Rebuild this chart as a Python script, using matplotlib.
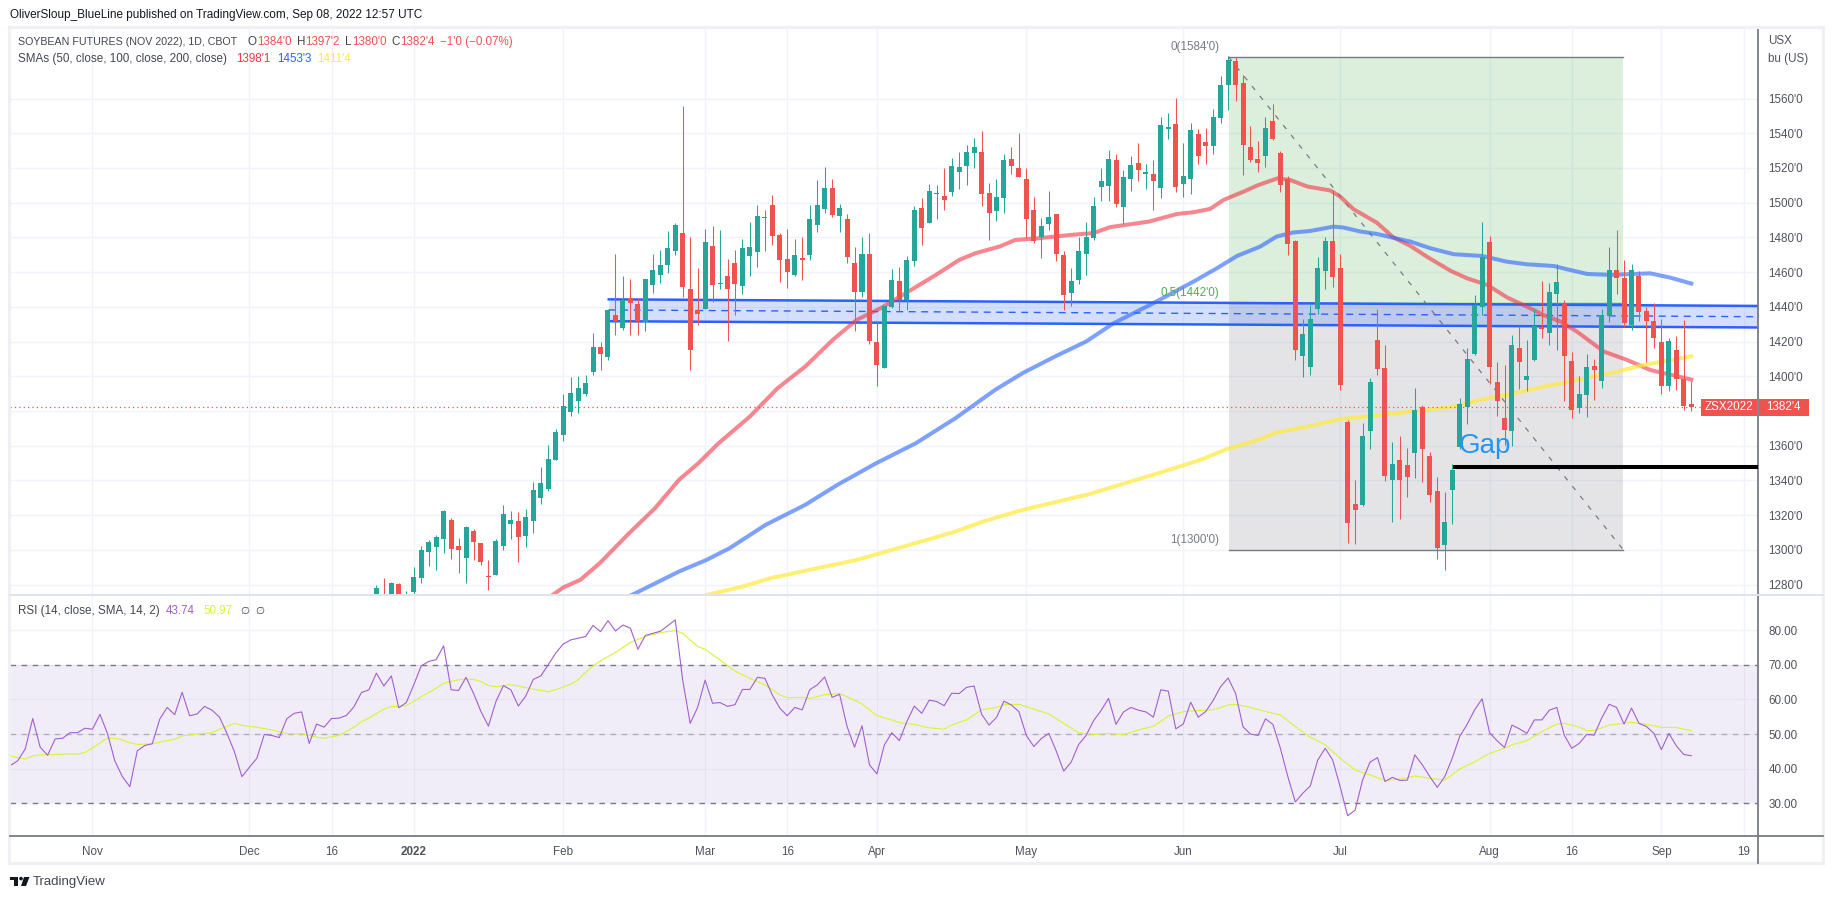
# soybean futures daily chart, tradingview style
import numpy as np
import matplotlib
matplotlib.use('Agg')
import matplotlib.pyplot as plt
from matplotlib.patches import Rectangle, Polygon, Ellipse
from matplotlib.lines import Line2D

plt.rcParams['font.family'] = ['Liberation Sans', 'DejaVu Sans']

# candles, 0 = first bar visible in the price pane
candle_open = [
    1270,1272,1268,1280.2,1262,1275.8,1283.9,1298.8,1301.7,1306.3,
    1317.1,1302.1,1295.4,1310.7,1303.8,1284.8,1285.6,1302.3,1314.8,1316.5,
    1308.1,1316.7,1330,1335.1,1351.8,1366.2,1379.5,1385.8,1389.9,1402.5,
    1416.7,1411.2,
    1435,1427.7,1444.8,1441.9,1431.2,1452.5,1458.3,1464,1472.1,1482.8,
    1450,1437.9,1438.5,1475.3,1453,1458,1465,1452,1469.2,1471.5,
    1492,1498.4,1481.1,1467.3,1458.3,1467.9,1469.8,1487,1496.3,1508.2,
    1492.2,1490.3,1465,1448.5,1470.2,1420,
    1404.6,1439.8,1455.1,1443.8,1466.3,1497.2,1488.2,1504.9,1504.1,1506,
    1517.5,1521,1528.5,1528.9,1505.3,1495.1,1502.6,1525.4,1520.2,1513.9,
    1495.5,1480.1,1487.6,1493.2,1470.1,1447.8,1455.7,1470.3,1479.5,1508.9,
    1509.5,1524.3,1497.4,1513.5,1523.1,1516.6,1516.8,1508.3,1542.5,
    1545.4,1511,1513.9,1539.6,1535,1532.9,1549,1567.5,1581.7,1569,
    1532.1,1525.2,1526.6,1547.1,1528.7,1513.7,1478,1411.4,1405.6,1439,
    1460.9,1478,1462.4,1373.7,1326.5,1325.9,1368.7,1421,1404.8,1340.5,
    1351.8,1349,1355.5,
    1382.3,1354.1,1333.9,1303,1334.7,1359.5,1382.5,1412.9,1440.1,1477.4,
    1396.7,1376,1368.7,1416.3,1398.1,1409.6,1428.2,1425.1,1447.6,1441.8,
    1408.8,1381.9,1389.4,1406,1397.5,1434.7,1461.2,1456.6,1429.8,1457.8,
    1437.6,1431.9,1419.8,1394.6,1415.2,1398.5,1384]
candle_high = [
    1279.6,1283.7,1281.4,1280.8,1276.2,1290,1302.1,1305.6,1308.4,1322.8,
    1318.2,1306.7,1313.6,1311.9,1303.8,1294,1306.1,1325.7,1322.3,1321.7,
    1323.4,1339,1347.6,1360.3,1369.5,1389.7,1399.5,1400,1400.6,1424.8,
    1419.6,1438.6,
    1470.2,1457.5,1455.8,1444.8,1456.3,1470.2,1472.5,1483.4,1488,1555.4,
    1480,1462.1,1485.1,1486.3,1484,1467.3,1472.5,1478.8,1488.6,1498.4,
    1495.5,1504.7,1482.3,1485.1,1478.8,1480,1498.4,1512.8,1520.3,1513.9,
    1499,1493.2,1474.2,1480,1482.3,1431.6,
    1440.2,1461.5,1463.2,1469,1497.8,1502.4,1511,1509.9,1520.2,1526,
    1528.9,1533.5,1537.5,1541.5,1511.6,1513.9,1528.3,1531.8,1540.4,1519.7,
    1503.5,1491.4,1507,1493.2,1472.4,1462.1,1480.5,1489.1,1503.5,1519.7,
    1530.6,1528.3,1519.1,1527.1,1534.6,1522.5,1524.3,1549.6,1551.9,
    1560.4,1534.4,1546,1542.5,1543.1,1554,1573,1584.5,1584,1573.6,
    1544.2,1535.6,1549.4,1556.9,1529.8,1515.4,1478.6,1433,1441.1,1468.8,
    1480.3,1507.4,1470.5,1374.9,1340.3,1373.2,1399,1438.8,1418.1,1362.2,
    1365.7,1358.8,1393.3,
    1383.5,1356.4,1342.2,1333.4,1349.3,1387.5,1416.3,1446.8,1488.9,1480.8,
    1408.2,1406.5,1423.8,1429,1420.9,1438.8,1454.9,1453.8,1464.7,1444,
    1414,1400.2,1412.9,1410,1438.8,1474.5,1484.3,1467,1464.7,1460.7,
    1439.9,1442.2,1433,1422.1,1423.2,1432.4,1397.25]
candle_low = [
    1265,1258,1262,1262,1258,1274.7,1281,1290.8,1288.5,1298.3,
    1294.8,1286.8,1281,1294.2,1291.4,1277,1285.6,1300,1306.3,1293.1,
    1301.7,1309.8,1326.5,1334,1351.8,1362.8,1377.2,1378.9,1388.7,1400.8,
    1403.7,1409.4,
    1423.7,1426.6,1423.7,1423.7,1426,1447.9,1453.6,1459.4,1469.8,1445.8,
    1403.5,1429.5,1438.5,1442.7,1450.2,1420.2,1435.2,1447.3,1457.7,1462.9,
    1472.1,1475.5,1454.2,1450.8,1457.7,1455.4,1466.9,1483,1494,1491.7,
    1483,1465.2,1426,1445.6,1418.5,1394.3,
    1404.6,1439.4,1437.5,1438.4,1463.4,1475.5,1488.2,1490.3,1495.5,1503.7,
    1507.6,1509.9,1519.7,1498,1478.4,1489.3,1493.9,1516.4,1514.7,1479.7,
    1476.8,1468,1484.1,1466.3,1438.4,1440.4,1453,1458.2,1478.4,1500.8,
    1500.8,1497.6,1487.6,1506.6,1512.7,1507.6,1495.7,1502.6,1536.4,
    1506.4,1503.5,1505.2,1522,1522.3,1528.1,1546.1,1553.1,1558.8,1516.2,
    1523.7,1517.7,1520.8,1536.2,1506.4,1470.1,1409.6,1399.3,1401,1435.9,
    1450,1451.7,1391.8,1304.2,1303.1,1325.5,1357.8,1401,1339.4,1316.3,
    1318,1330.7,1341.1,
    1339.3,1327.8,1295,1288.6,1314.6,1358.3,1372.2,1412.5,1435.3,1395.8,
    1377.3,1360.6,1360.1,1392.9,1391.5,1409,1422.3,1418.2,1415.4,1386,
    1376.2,1379.1,1376.8,1386.6,1393.5,1431.5,1447.6,1428.6,1426.9,1432.1,
    1408.4,1416.5,1390,1391.7,1392.3,1380.8,1380]
candle_close = [
    1277.9,1262,1280.8,1268,1272,1284.2,1299.8,1304.4,1307.3,1322.3,
    1300.6,1300,1313,1304.6,1293.1,1284.6,1305,1320.5,1317.1,1307.5,
    1318.8,1334.4,1338.4,1352.2,1367.8,1382.7,1390.2,1393.1,1396,1416.7,
    1412.9,1438.1,
    1431.8,1444.2,1442.1,1431.8,1455.8,1461,1463.8,1473.6,1487.4,1451.3,
    1415,1435.8,1477.1,1452.5,1454,1450.2,1453,1473.6,1474.2,1492.6,
    1491.1,1480.7,1466.9,1460,1469.6,1466.9,1490.3,1498.4,1508.2,1492.8,
    1497.2,1468.6,1448.5,1470.7,1420.2,1406.4,
    1440.2,1455.7,1443.8,1466.7,1495.5,1485.3,1507,1505.6,1501.4,1521.4,
    1520.8,1529.4,1531.8,1504.9,1493.9,1503,1524.8,1521,1514.7,1490.5,
    1477.8,1486.8,1492,1470.3,1446.7,1455.1,1472.4,1480.5,1498.3,1512.2,
    1525.4,1499.1,1514.5,1521.9,1518.7,1517.9,1512.4,1545,1543.8,
    1509.3,1515.4,1541.9,1526.6,1532.7,1549.4,1567.8,1582.2,1568,1533.5,
    1524.8,1522.9,1543.1,1536.7,1509.9,1475.9,1415.4,1424.4,1433,1462.4,
    1478,1457.4,1395.2,1315.7,1322.7,1365.7,1396.8,1404.3,1342.8,1349.5,
    1340.5,1342.2,1380.6,
    1357.8,1331.8,1301.3,1316.1,1346,1384,1410,1441,1468.7,1405.6,
    1386,1369.1,1418,1408.4,1400.2,1429,1427.4,1448.6,1454.3,1411.9,
    1380.8,1389.8,1405.4,1403.8,1435.3,1461.2,1456.8,1430.9,1461.2,1437.2,
    1432.1,1422.3,1394.6,1420.3,1398.6,1383.1,1382.5]

# moving averages, (bar, price)
sma50_bar = [21,23.6,25,27.3,29.9,33.6,37.3,40.5,43.1,45.8,50,53.7,57.4,61.1,64.3,67.5,71.2,74.9,78,80.2,
             83.4,85.5,88.6,92.9,96,98.2,103.4,107.2,109.4,111.6,113.4,116.1,117.9,120.6,122.3,124.6,127.7,129,130.8,133.9,
             136.1,138.4,140.6,143.8,146,148.7,151.3,154,156.2,158.5,160.7,164.3,167.4,170.5,173.7,176]
sma50_val = [1268,1274,1278.3,1282.7,1292.3,1308.6,1324,1340.3,1349.9,1361.4,1376.8,1393.1,1405.6,1421,1432.5,1439.2,1448.8,1458.4,1467,1470.9,
             1474.7,1478.5,1479.5,1481.4,1482.5,1485.9,1489.1,1493.5,1494.5,1496.4,1501.6,1506.4,1509.9,1514,1513.1,1509.3,1507,1503.5,1496.2,1488.5,
             1480.1,1475.1,1468.9,1460.7,1456.4,1452.6,1445.5,1440.1,1435.3,1431.5,1425.7,1414.2,1409.4,1403.6,1400.4,1398.1]
sma100_bar = [32,34.2,40.5,44.2,47.3,52.1,57.4,61.7,66.9,72.2,77.5,82.8,86.5,90.8,95,98.7,104,109.4,112.5,115.2,
              118.3,120.5,122.7,125,128.1,129.4,131.7,133.9,137,138.4,141.1,144.2,148,151.3,154,157.6,159.4,162.1,165.2,170.5,173.2,176]
sma100_val = [1270,1274,1287.5,1294.2,1301,1314.4,1325.9,1337.4,1349.9,1361.4,1375.8,1392.1,1401.8,1411.3,1420,1430.6,1442.1,1454.6,1462.2,1469.3,
              1474.7,1480.5,1482.8,1483.7,1486.2,1485.7,1483.4,1482,1478.9,1477.6,1473.7,1470.3,1469.3,1466,1464.5,1463.5,1461.6,1458.9,1458.4,1459.3,1456.8,1453.4]
sma200_bar = [42,44.2,49,52.7,59,64.3,70.6,77.5,81.2,86.5,95.5,104.9,110.3,113.8,117.4,120.5,125,129,133.5,138.4,
              144.2,147.8,151.8,156.2,160.7,165.2,169.6,176]
sma200_val = [1271,1274,1278.8,1283.6,1289.4,1294.2,1301.9,1310.5,1316.3,1323,1332.2,1344.5,1351.8,1358,1362.4,1367.6,1371.4,1375.3,1377.2,1379.6,
              1382.5,1386.4,1389.6,1394,1397.9,1401.7,1406.5,1411.5]

# rsi, one value per bar starting at bar -49
rsi_val = [
    40.9,42.3,45.7,54.5,46.2,43.9,48.6,48.8,50.4,50.4,51.7,51.4,
    55.7,50.2,42.2,37.7,34.8,45.2,46.7,47.2,54.3,57.7,55.6,62.1,55.3,55.8,58,56.9,54.9,50.2,44.9,37.7,40.4,43,49.9,49.6,49,54.4,56,56.4,47.3,52.9,52,54.5,54.6,55.4,57.9,62,62.8,67.6,63.9,66.8,57.6,59.1,64.2,69.7,71,71.5,75.5,62.8,62.6,66.4,61.8,56.5,52.3,59.4,64,62.8,58.1,61,65.8,66.8,70,73.4,76,77.2,77.7,78.2,81.4,79.6,82.8,79.8,81.5,80.6,74.5,78.5,79.1,79.7,81.3,83,65.6,53.1,57.7,65.6,58.9,59.1,58,58.5,62.9,62.9,66.4,66.1,61.3,57.5,55.3,57.7,57,62.8,64.2,66.5,60.6,61.5,52.2,46.2,52.4,41.1,38.5,46.9,50.4,48.1,
    53.6,58.1,56,59.8,59.4,58.2,61.8,61.7,63.5,63.9,55.8,52.6,54.8,59.5,58.4,56.5,49.6,46.4,48.7,50.2,45.1,39.3,41.9,47,49.6,53.9,56.8,60.3,52.8,56.4,57.7,56.9,56.4,54.9,62.8,62.4,51.5,52.9,59.2,54.9,56.5,59.7,63.7,66.2,61.8,52.1,50,49.6,54.4,52.8,45.9,37.7,30.4,32.9,35,42.5,45.9,42.5,34.8,26.4,28,36.7,41.9,43.2,36.3,37.5,36.6,36.7,44,41.1,37.7,34.6,37.7,43,49.3,52.8,57,60.2,50.4,48.1,46.1,52.6,51.5,50.2,54.1,54.1,56.9,57.7,49.7,45.9,47.3,49.9,49.7,54.6,58.6,57.7,52.9,57.5,53.1,52.2,50.2,45.5,50.2,46.6,44.1,43.74]
rsi_ma_bar = [-49,-48,-47,-46,-45,-43,-41,-40,-39,-38,-37,-36,-35,-34,-33,-32,-30,-28,-27,-26,-24,-22,-21,-19,-18,-16,-14,-12,-10,-8,-7,-5,-3,-2,-1,
              1,2,3,4,6,8,9,11,12,13,14,15,16,18,20,23,24,26,27,28,29,30,32,34,36,38,40,41,42,43,44,46,48,50,52,53,54,55,57,58,59,60,62,63,65,67,69,70,
              72,74,76,77,79,80,81,83,84,86,87,90,92,94,96,98,100,102,104,106,108,110,112,114,115,117,119,121,123,125,127,129,131,133,135,137,139,141,143,145,147,149,151,152,154,156,158,159,161,162,163,165,168,170,172,174,176]
rsi_ma_val = [43.7,43.2,42.8,43.7,44,44.1,44.3,44.2,44.7,45.9,47.5,48.8,48.8,48.3,47.5,47,47.2,48.1,48.5,49.5,50,50.4,51.4,53.1,52.5,52,51.2,50.1,50.1,49.1,48.8,49.6,52,53.6,54.6,
              57.2,58,58,58.2,60.8,63.2,64.7,65.7,65.9,65.8,65.2,64,63.7,64.3,63.4,62.2,62.8,64.4,65.7,67.8,69.7,71.2,73.6,76.5,78.2,79.3,79.9,79.1,77.2,75.3,74.5,71.4,68.2,66.1,64.2,62.8,61.3,60.5,60.6,60.3,60.8,61.4,61.7,60.8,58.7,55.3,54.1,53.3,
              52.8,51.8,51.4,52.6,54.1,55.5,57,57.7,58.5,58.6,57.9,55.8,53.1,50.4,49.9,50.2,49.8,51.2,52.2,55.2,56.5,56.8,57,58.4,58.6,57.7,56.5,55.5,52.2,49.1,46.9,43,39.6,38.2,36.6,37,37.9,37.2,36.7,39.9,42,44.4,45.9,46.9,48.1,50.7,52.9,53.1,52,51,51,52.6,53.4,52.8,51.9,51.9,50.97]

# time axis ticks
time_ticks = [-38,-17,-6,5,25,44,55,67,87,108,129,149,160,172,183]
time_labels = ['Nov','Dec','16','2022','Feb','Mar','16','Apr','May','Jun','Jul','Aug','16','Sep','19']
price_ticks = list(range(1280, 1580, 20))
rsi_ticks = [30,40,50,60,70,80]

W, H = 1834, 899
GRID = '#f0f3fa'
AXIS = '#787b86'
TEXT = '#50535e'
UP = '#26a69a'
DOWN = '#ef5350'
BLUE = '#2962ff'
FS = 8.4

def fx(x):
    return x / W

def fy(y):
    return 1 - y / H

def pane(left, top, right, bottom):
    return fig.add_axes([fx(left), fy(bottom), fx(right - left), (bottom - top) / H])

fig = plt.figure(figsize=(W / 100, H / 100), dpi=100, facecolor='white')
ax = pane(10, 27, 1758, 595.3)
ax2 = pane(10, 595.3, 1758, 836)

x_left, x_right = -49.04, 184.93
for a in (ax, ax2):
    a.set_xlim(x_left, x_right)
    a.set_xticks(time_ticks)
    a.grid(True, color=GRID, lw=1.0, zorder=0)
    a.set_axisbelow(True)
    a.yaxis.tick_right()
    a.tick_params(length=0, labelsize=FS, labelcolor=TEXT, pad=7.5)
    for s in ('top', 'left', 'bottom'):
        a.spines[s].set_visible(False)
    a.spines['right'].set_color(AXIS)
    a.spines['right'].set_linewidth(1.3)

ax.set_ylim(1273.8, 1601.2)
ax.set_yticks(price_ticks)
ax.set_yticklabels(["%d'0" % p for p in price_ticks])
ax.tick_params(axis='x', labelbottom=False)

# fib retracement, sent to back
fib_l, fib_r = 114.06, 166.9
ax.fill_between([fib_l, fib_r], 1442, 1584, color='#4caf50', alpha=0.2, lw=0, zorder=1)
ax.fill_between([fib_l, fib_r], 1300, 1442, color='#787b86', alpha=0.2, lw=0, zorder=1)
ax.plot([fib_l, fib_r], [1584, 1584], color=AXIS, lw=1.0, zorder=1.1)
ax.plot([fib_l, fib_r], [1442, 1442], color='#4caf50', lw=1.0, zorder=1.1)
ax.plot([fib_l, fib_r], [1300, 1300], color=AXIS, lw=1.0, zorder=1.1)
ax.plot([fib_l, fib_r], [1584, 1300], color=AXIS, lw=0.9, ls=(0, (4, 6)), zorder=1.1)
ax.text(112.8, 1589.8, "0(1584'0)", color=AXIS, fontsize=FS, ha='right', va='center')
ax.text(112.8, 1447.8, "0.5(1442'0)", color='#4caf50', fontsize=FS, ha='right', va='center')
ax.text(112.8, 1305.8, "1(1300'0)", color=AXIS, fontsize=FS, ha='right', va='center')

# parallel channel
ch_x = [31.1, x_right]
ax.fill_between(ch_x, [1431.7, 1428.1], [1444.3, 1440.5], color=BLUE, alpha=0.2, lw=0, zorder=1.5)
ax.plot(ch_x, [1444.3, 1440.5], color=BLUE, lw=1.8, zorder=1.6)
ax.plot(ch_x, [1431.7, 1428.1], color=BLUE, lw=1.8, zorder=1.6)
ax.plot(ch_x, [1438.2, 1434.3], color=BLUE, lw=1.0, ls=(0, (5, 4)), zorder=1.6)

# moving averages
ax.plot(sma50_bar, sma50_val, color='#f23645', alpha=0.6, lw=2.9, zorder=2)
ax.plot(sma100_bar, sma100_val, color=BLUE, alpha=0.6, lw=2.9, zorder=2)
ax.plot(sma200_bar, sma200_val, color='#ffeb3b', alpha=0.7, lw=2.9, zorder=2)

# last price line
ax.axhline(1382.5, color=DOWN, lw=0.9, ls=(0, (1, 2.5)), zorder=2.5)

# candles
bars = np.arange(len(candle_open))
o = np.array(candle_open)
h = np.array(candle_high)
l = np.array(candle_low)
c = np.array(candle_close)
colors = np.where(c < o, DOWN, UP)
ax.vlines(bars, l, h, colors=colors, lw=0.75, zorder=3)
body = np.maximum(np.abs(c - o), 0.6)
ax.bar(bars, body, bottom=np.minimum(o, c), width=0.67, color=colors, lw=0, zorder=3.1)

# gap marker
ax.plot([144.1, x_right], [1347.8, 1347.8], color='black', lw=2.9, solid_capstyle='butt', zorder=4)
ax.text(144.9, 1355.9, 'Gap', color='#2196f3', fontsize=20, ha='left', va='baseline', zorder=5)

# rsi pane
ax2.set_ylim(20.55, 90.1)
ax2.set_yticks(rsi_ticks)
ax2.set_yticklabels(['%.2f' % v for v in rsi_ticks])
ax2.set_xticklabels(time_labels)
ax2.tick_params(axis='x', pad=7)
for t, name in zip(ax2.get_xticklabels(), time_labels):
    if name == '2022':
        t.set_fontweight('bold')
ax2.axhspan(30, 70, color='#7e57c2', alpha=0.1, lw=0, zorder=1)
ax2.axhline(70, color=AXIS, lw=1.0, ls=(0, (4, 4)), zorder=1.2)
ax2.axhline(50, color=AXIS, alpha=0.5, lw=1.0, ls=(0, (4, 4)), zorder=1.2)
ax2.axhline(30, color=AXIS, lw=1.0, ls=(0, (4, 4)), zorder=1.2)
ax2.plot(rsi_ma_bar, rsi_ma_val, color='#d8f53a', lw=0.85, zorder=2)
ax2.plot(np.arange(-49, -49 + len(rsi_val)), rsi_val, color='#a25fd0', lw=0.8, zorder=3)

# frame and pane lines
fig.add_artist(Rectangle((fx(9), fy(863)), fx(1814), 836 / H, fill=False, ec='#eef0f6', lw=2.2))
fig.add_artist(Line2D([fx(10), fx(1823)], [fy(595.3), fy(595.3)], color='#e0e3eb', lw=1.4))
fig.add_artist(Line2D([fx(10), fx(1823)], [fy(836), fy(836)], color=AXIS, lw=1.3))
fig.add_artist(Line2D([fx(1758), fx(1758)], [fy(836), fy(863)], color=AXIS, lw=1.3))

# price tags
fig.add_artist(Rectangle((fx(1701), fy(416)), fx(56), 17 / H, fc=DOWN, ec='none'))
fig.add_artist(Rectangle((fx(1758.5), fy(416)), fx(50), 17 / H, fc=DOWN, ec='none'))
fig.text(fx(1729), fy(407.5), 'ZSX2022', color='white', fontsize=FS, ha='center', va='center')
fig.text(fx(1783.5), fy(407.5), "1382'4", color='white', fontsize=FS, ha='center', va='center')

fig.text(fx(1768), fy(41), 'USX', color=TEXT, fontsize=FS, va='center')
fig.text(fx(1768), fy(59), 'bu (US)', color=TEXT, fontsize=FS, va='center')

# header and legends
def label(x, y, s, color='#50535e', size=FS):
    fig.text(fx(x), fy(y), s, color=color, fontsize=size, va='center')

label(10, 15, 'OliverSloup_BlueLine published on TradingView.com, Sep 08, 2022 12:57 UTC', '#131722', 8.5)
label(18, 41.7, 'SOYBEAN FUTURES (NOV 2022), 1D, CBOT', '#434651', 7.7)
for x, s, col in [(248, 'O', '#434651'), (257, "1384'0", DOWN), (297, 'H', '#434651'), (305.5, "1397'2", DOWN),
                  (345.5, 'L', '#434651'), (352, "1380'0", DOWN), (391, 'C', '#434651'), (400, "1382'4", DOWN),
                  (440, '\u22121\'0 (\u22120.07%)', DOWN)]:
    label(x, 41.7, s, col)
label(18, 59, 'SMAs (50, close, 100, close, 200, close)', '#434651')
label(236, 59, "1398'1", '#f23645')
label(277.5, 59, "1453'3", BLUE)
label(317, 59, "1411'4", '#ffeb3b')
label(18, 611, 'RSI (14, close, SMA, 14, 2)', '#434651')
label(166, 611, '43.74', '#a25fd0')
label(203, 611, '50.97', '#d8f53a')
label(240, 611, '\u2205', '#434651', 7.5)
label(255, 611, '\u2205', '#434651', 7.5)

# tradingview logo
fig.add_artist(Polygon([(fx(10), fy(877)), (fx(18), fy(877)), (fx(18), fy(886)), (fx(14), fy(886)), (fx(14), fy(880)), (fx(10), fy(880))], fc='#131722', ec='none'))
fig.add_artist(Polygon([(fx(24), fy(877)), (fx(29.5), fy(877)), (fx(26), fy(886)), (fx(21), fy(886))], fc='#131722', ec='none'))
fig.add_artist(Ellipse((fx(21), fy(878.6)), 3.6 / W, 3.6 / H, fc='#131722', ec='none'))
label(33, 882, 'TradingView', '#434651', 9.5)

fig.savefig('out.png', dpi=100)
